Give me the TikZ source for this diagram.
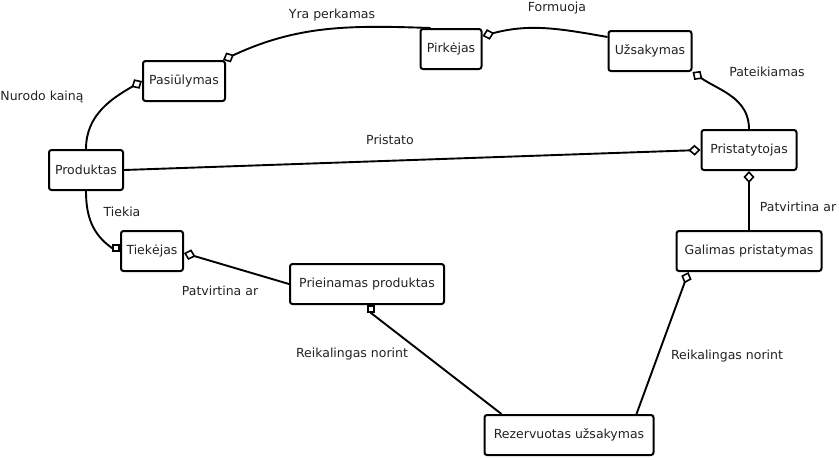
\documentclass[tikz,border=0pt]{standalone}
\usepackage{fontspec}
\setmainfont{DejaVu Sans}
\usepackage{tikz}
\usepackage{xcolor}
\usetikzlibrary{arrows.meta,positioning,calc}
\definecolor{ink}{HTML}{000000}
\definecolor{inktext}{HTML}{222222}
\tikzset{
  entbox/.style={draw=ink,fill=white,rounded corners=2.5pt,line width=2pt,
                 minimum height=40pt,inner sep=0pt,align=center,
                 font=\fontsize{12.5}{15}\selectfont,text=inktext},
  rellabel/.style={font=\fontsize{12.5}{15}\selectfont,text=inktext,inner sep=0pt},
  relline/.style={draw=ink,line width=1.9pt},
  aggend/.style={relline,-{Diamond[open,length=12pt,width=11pt,line width=1.6pt]}},
  sqend/.style={relline,-{Square[open,length=8pt,width=8pt,line width=1.6pt]}}
}

\begin{document}
\begin{tikzpicture}[x=1pt,y=-1pt]
      \useasboundingbox (0,0) rectangle (839,459);

      % entities
      \node[entbox,minimum width=82pt]  (pas)  at (184,81)  {Pasiūlymas};
      \node[entbox,minimum width=61pt]  (pir)  at (451,49)  {Pirkėjas};
      \node[entbox,minimum width=83pt]  (uzs)  at (650,51)  {Užsakymas};
      \node[entbox,minimum width=74pt]  (prod) at (86,170)  {Produktas};
      \node[entbox,minimum width=95pt]  (pri)  at (749,150) {Pristatytojas};
      \node[entbox,minimum width=62pt]  (tie)  at (152,251) {Tiekėjas};
      \node[entbox,minimum width=154pt] (pp)   at (367,284) {Prieinamas produktas};
      \node[entbox,minimum width=145pt] (gal)  at (749,251) {Galimas pristatymas};
      \node[entbox,minimum width=169pt] (rez)  at (569,435) {Rezervuotas užsakymas};

      % relations (diamond / square at the owning end)
      \draw[aggend] (prod.north) to[out=90,in=210] (pas.west);
      \draw[aggend] ([xshift=11pt]pir.north west) to[out=178,in=25] ([xshift=-3pt]pas.north east);
      \draw[aggend] ([yshift=-7pt]uzs.north west) to[out=170,in=15] ([yshift=-8pt]pir.north east);
      \draw[aggend] (pri.north) to[out=90,in=-35] (uzs.south east);
      \draw[aggend] (prod.east) -- (pri.west);
      \draw[sqend] (prod.south) to[out=-90,in=145] ([xshift=-8pt,yshift=3pt]tie.west)
                   -- ([yshift=3pt]tie.west);
      \draw[aggend] (pp.west) -- ([yshift=-2pt]tie.east);
      \draw[aggend] (gal.north) -- (pri.south);
      \draw[sqend] ([xshift=18pt]rez.north west) -- ([xshift=4pt,yshift=-8pt]pp.south)
                   -- ([xshift=4pt]pp.south);
      \draw[aggend] ([xshift=-18pt]rez.north east) -- ([xshift=13pt]gal.south west);

      % relation names
      \node[rellabel] (lkaina)   at (42,97)   {Nurodo kainą};
      \node[rellabel] (lperk)    at (332,15)  {Yra perkamas};
      \node[rellabel] (lform)    at (557,8)   {Formuoja};
      \node[rellabel] (lpateik)  at (767,72)  {Pateikiamas};
      \node[rellabel] (lprist)   at (390,140) {Pristato};
      \node[rellabel] (ltiek)    at (122,212) {Tiekia};
      \node[rellabel] (lpatvA)   at (220,291) {Patvirtina ar};
      \node[rellabel] (lpatvB)   at (798,207) {Patvirtina ar};
      \node[rellabel] (lreikA)   at (352,354) {Reikalingas norint};
      \node[rellabel] (lreikB)   at (727,356) {Reikalingas norint};
    \end{tikzpicture}
\end{document}
